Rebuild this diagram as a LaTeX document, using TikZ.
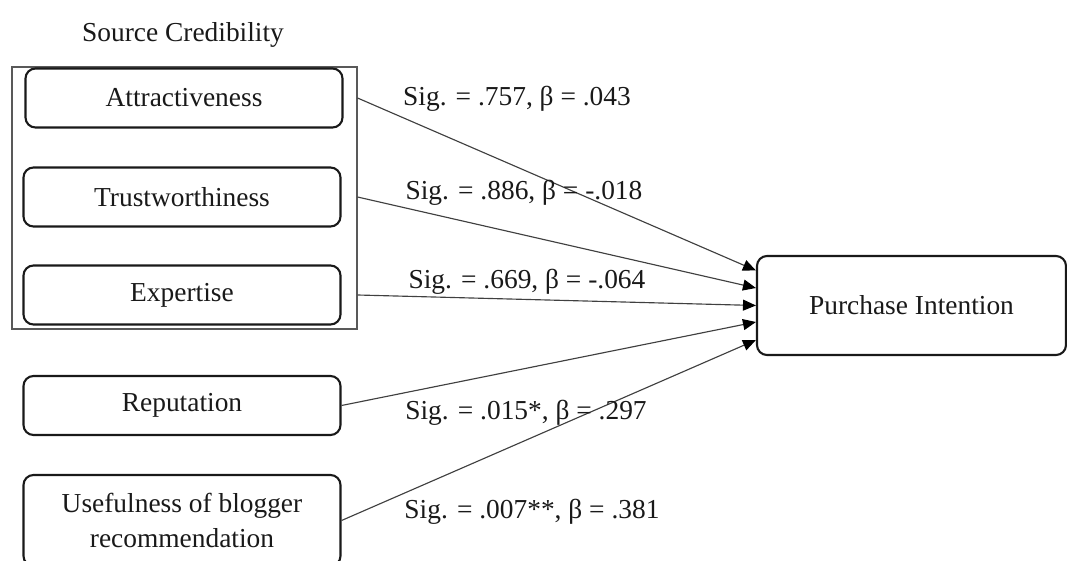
\documentclass[tikz,border=0pt]{standalone}
\usepackage{fontspec}
\setmainfont{Liberation Serif}
\usetikzlibrary{arrows.meta}

\begin{document}
\begin{tikzpicture}[
	font=\fontsize{15.6}{19.9}\selectfont,
	factor/.style={draw=black!90, line width=1.2pt, rounded corners=0.2cm, minimum width=6.34cm, minimum height=1.18cm, align=center, text=black!90},
	link/.style={draw=black!75, line width=0.65pt, -{Triangle[length=2.6mm, width=2.2mm, color=black]}},
	sig/.style={text=black!90, inner sep=0pt}
]
	\useasboundingbox (0,0) rectangle (21.34,11.2);

	% source credibility group
	\node[draw=black!65, line width=0.6pt, minimum width=6.9cm, minimum height=5.24cm] (sc) at (3.69,7.24) {};
	\node[text=black!90] (sctitle) at (3.66,10.5) {Source Credibility};

	\node[factor] (attr)  at (3.68,9.24) {Attractiveness};
	\node[factor] (trust) at (3.64,7.26) {Trustworthiness};
	\node[factor] (exp)   at (3.64,5.30) {Expertise};
	\node[factor] (rep)   at (3.64,3.09) {Reputation};
	\node[factor, minimum height=1.82cm] (use) at (3.64,0.79) {Usefulness of blogger\\recommendation};

	\node[factor, minimum width=6.18cm, minimum height=1.98cm] (pi) at (18.23,5.09) {Purchase Intention};

	% paths
	\draw[link] (attr.east -| sc.east)  -- ([yshift=0.70cm]pi.west);
	\draw[link] (trust.east -| sc.east) -- ([yshift=0.35cm]pi.west);
	\draw[link] (exp.east -| sc.east)   -- (pi.west);
	\draw[link] (rep.east)              -- ([yshift=-0.33cm]pi.west);
	\draw[link] (use.east)              -- ([yshift=-0.69cm]pi.west);

	\node[sig] (s1) at (10.34,9.22) {Sig. = .757, β = .043};
	\node[sig] (s2) at (10.48,7.34) {Sig. = .886, β = -.018};
	\node[sig] (s3) at (10.54,5.56) {Sig. = .669, β = -.064};
	\node[sig] (s4) at (10.52,2.94) {Sig. = .015*, β = .297};
	\node[sig] (s5) at (10.64,0.96) {Sig. = .007**, β = .381};
\end{tikzpicture}
\end{document}
